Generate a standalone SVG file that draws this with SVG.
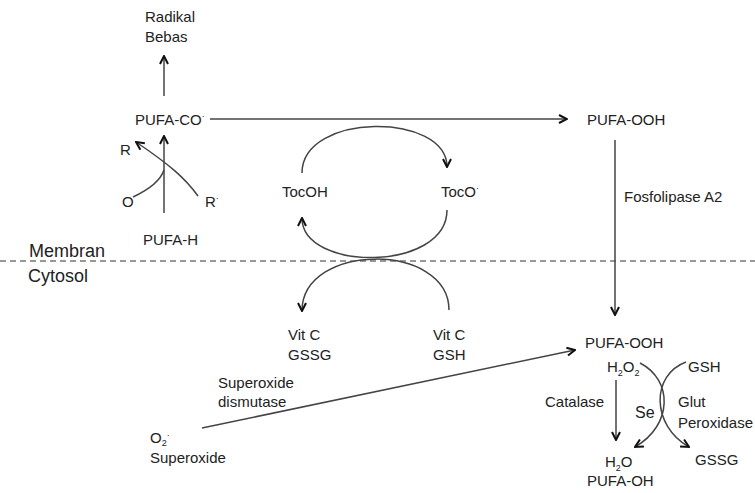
<svg xmlns="http://www.w3.org/2000/svg" width="755" height="493" viewBox="0 0 755 493">
<style>
text{font-family:"Liberation Sans",Arial,sans-serif;font-size:15px;fill:#222}
.big{font-size:18px}
.se{font-size:16px}
.sup{font-size:9px}
.ln{fill:none;stroke:#444;stroke-width:1.5}
.dash{fill:none;stroke:#333;stroke-width:1.2;stroke-dasharray:6 4}
</style>
<defs>
<marker id="ah" viewBox="0 0 10 10" refX="9" refY="5" markerWidth="10" markerHeight="10" markerUnits="userSpaceOnUse" orient="auto">
<path d="M1,1 L9,5 L1,9" fill="none" stroke="#111" stroke-width="2"/>
</marker>
</defs>
<rect width="755" height="493" fill="#fff"/>
<line class="dash" x1="0" y1="261" x2="755" y2="261"/>
<g id="connectors">
<line class="ln" x1="164" y1="96" x2="164" y2="56" marker-end="url(#ah)"/>
<line class="ln" x1="210" y1="119" x2="567" y2="119" marker-end="url(#ah)"/>
<line class="ln" x1="164" y1="213" x2="164" y2="136" marker-end="url(#ah)"/>
<path class="ln" d="M198,196 C185,178 170,165 136,142" marker-end="url(#ah)"/>
<path class="ln" d="M133,197 C148,190 160,182 164,170"/>
<path class="ln" d="M302,173 C302,112 447,112 447,167" marker-end="url(#ah)"/>
<path class="ln" d="M447,210 C447,272 302,272 302,218" marker-end="url(#ah)"/>
<path class="ln" d="M449,310 C449,242 302,242 302,311" marker-end="url(#ah)"/>
<line class="ln" x1="615" y1="140" x2="615" y2="315" marker-end="url(#ah)"/>
<line class="ln" x1="202" y1="428" x2="575" y2="350" marker-end="url(#ah)"/>
<line class="ln" x1="616" y1="380" x2="616" y2="440" marker-end="url(#ah)"/>
<path class="ln" d="M640,363 C673,380 673,425 635,447" marker-end="url(#ah)"/>
<path class="ln" d="M686,362 C651,375 651,425 689,447" marker-end="url(#ah)"/>
</g>
<g id="radikal"><text x="145" y="22">Radikal</text><text x="145" y="42">Bebas</text></g>
<g id="pufa-co"><text x="135" y="125">PUFA-CO<tspan class="sup" dy="-6">·</tspan></text></g>
<g id="pufa-ooh-top"><text x="587" y="125">PUFA-OOH</text></g>
<g id="r"><text x="120" y="155">R</text></g>
<g id="o"><text x="122" y="207">O</text></g>
<g id="rdot"><text x="205" y="207">R<tspan class="sup" dy="-6">·</tspan></text></g>
<g id="pufa-h"><text x="143" y="245">PUFA-H</text></g>
<g id="tocoh"><text x="282" y="197">TocOH</text></g>
<g id="toco"><text x="441" y="197">TocO<tspan class="sup" dy="-6">·</tspan></text></g>
<g id="fosfolipase"><text x="624" y="202">Fosfolipase A2</text></g>
<g id="membran"><text class="big" x="29" y="257">Membran</text></g>
<g id="cytosol"><text class="big" x="28" y="282">Cytosol</text></g>
<g id="vitc-gssg"><text x="288" y="340">Vit C</text><text x="288" y="360">GSSG</text></g>
<g id="vitc-gsh"><text x="433" y="340">Vit C</text><text x="433" y="360">GSH</text></g>
<g id="sod"><text x="218" y="388">Superoxide</text><text x="218" y="407">dismutase</text></g>
<g id="superoxide"><text x="150" y="443">O<tspan class="sup" dy="3">2</tspan><tspan class="sup" dy="-8">·</tspan></text><text x="150" y="463">Superoxide</text></g>
<g id="pufa-ooh-h2o2"><text x="585" y="348">PUFA-OOH</text><text x="607" y="372">H<tspan class="sup" dy="4">2</tspan><tspan dy="-4">O</tspan><tspan class="sup" dy="4">2</tspan></text></g>
<g id="gsh"><text x="688" y="372">GSH</text></g>
<g id="catalase"><text x="545" y="407">Catalase</text></g>
<g id="se"><text class="se" x="635" y="418">Se</text></g>
<g id="glut"><text x="678" y="407">Glut</text><text x="678" y="428">Peroxidase</text></g>
<g id="gssg"><text x="695" y="465">GSSG</text></g>
<g id="h2o"><text x="605" y="467">H<tspan class="sup" dy="4">2</tspan><tspan dy="-4">O</tspan></text><text x="587" y="486">PUFA-OH</text></g>
</svg>
